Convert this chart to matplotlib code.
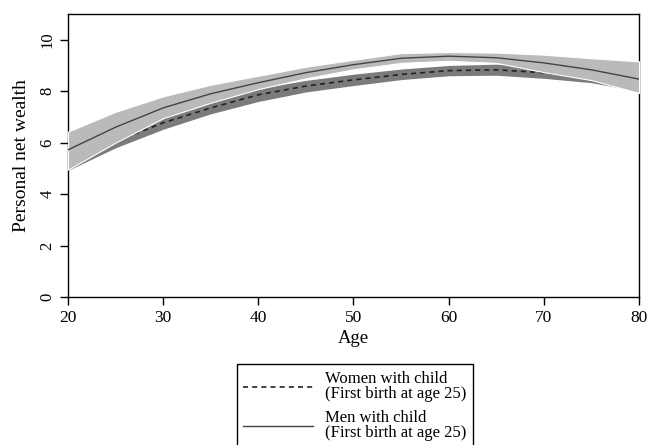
import matplotlib.pyplot as plt
import numpy as np

plt.rcParams['font.family'] = ['Liberation Serif', 'DejaVu Serif']

# Smoothed wealth profiles
age = [20, 25, 30, 35, 40, 45, 50, 55, 60, 65, 70, 75, 80]

men_fit = [5.72, 6.6, 7.35, 7.9, 8.33, 8.72, 9.03, 9.28, 9.36, 9.3, 9.1, 8.83, 8.47]
men_lo = [4.95, 6.0, 6.95, 7.55, 8.08, 8.5, 8.85, 9.1, 9.18, 9.1, 8.74, 8.43, 7.93]
men_hi = [6.43, 7.2, 7.8, 8.25, 8.6, 8.95, 9.22, 9.48, 9.52, 9.5, 9.42, 9.28, 9.16]

women_fit = [5.15, 6.05, 6.77, 7.35, 7.86, 8.2, 8.44, 8.65, 8.8, 8.83, 8.72, 8.5, 8.2]
women_lo = [4.92, 5.8, 6.52, 7.12, 7.6, 7.97, 8.22, 8.45, 8.6, 8.62, 8.5, 8.33, 8.0]
women_hi = [5.4, 6.2, 6.98, 7.58, 8.1, 8.42, 8.66, 8.86, 9.0, 9.05, 8.95, 8.75, 8.4]

labels = ['Women with child\n(First birth at age 25)',
          'Men with child\n(First birth at age 25)']

fig = plt.figure(figsize=(6.56, 4.45), dpi=100)
ax = fig.add_axes([68/656, 1-297/445, (639-68)/656, (297-14)/445])

# women: dark band + dashed line, men band drawn on top of both
ax.fill_between(age, women_lo, women_hi, color='#7b7b7b', lw=0, zorder=1)
l1, = ax.plot(age, women_fit, ls=(0, (3, 2.5)), c='#222222', lw=1.2, zorder=2)
ax.fill_between(age, men_lo, men_hi, facecolor='#bababa', edgecolor='white',
                lw=0.8, zorder=3)
l2, = ax.plot(age, men_fit, ls='-', c='#444444', lw=1.0, zorder=4)

ax.set_xlim(20, 80)
ax.set_ylim(0, 11)
ax.set_xticks(range(20, 81, 10))
ax.set_yticks(range(0, 11, 2))
for lab in ax.get_yticklabels():
    lab.set_rotation(90)
    lab.set_va('center')
ax.tick_params(axis='x', labelsize=12.5, length=6, width=1, pad=3)
ax.tick_params(axis='y', labelsize=12, length=6, width=1, pad=3)
for sp in ax.spines.values():
    sp.set_linewidth(1)

ax.set_xlabel('Age', fontsize=13.5, labelpad=3)
ax.set_ylabel('Personal net wealth', fontsize=14, labelpad=7)

leg = fig.legend([l1, l2], labels, loc='upper center',
                 bbox_to_anchor=(355/656, 1-356/445), fontsize=12,
                 handlelength=4.2, fancybox=False, edgecolor='black',
                 framealpha=1, borderpad=0.4, labelspacing=0.45,
                 handletextpad=0.7)
leg.get_frame().set_linewidth(1)
for t in leg.get_texts():
    t.set_linespacing(0.95)

fig.savefig('out.png', dpi=100)
